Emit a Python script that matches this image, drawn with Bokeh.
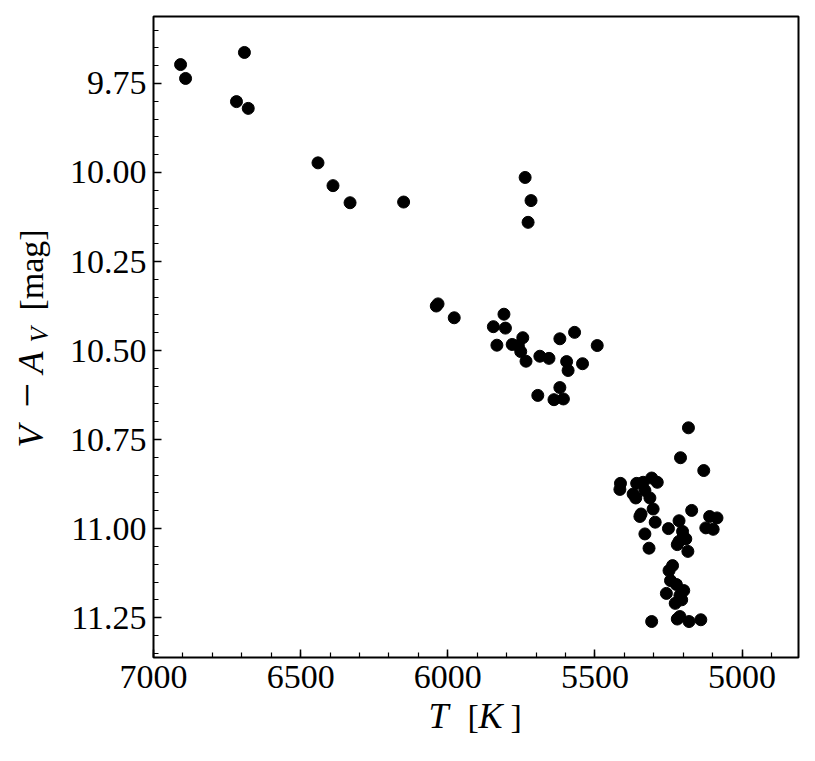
import math
from bokeh.plotting import figure
from bokeh.layouts import row, column
from bokeh.models import Range1d, FixedTicker, PrintfTickFormatter, Label, ColumnDataSource
from bokeh.embed import file_html
from bokeh.resources import INLINE

# --- data ---
temperature = [
    6908, 6891, 6691, 6718, 6678, 6441, 6390, 6332, 6150, 5737, 5717, 5727,
    6039, 6033, 5978, 5809, 5845, 5804, 5833, 5745, 5781, 5760, 5752, 5734,
    5687, 5656, 5619, 5569, 5492, 5596, 5591, 5542, 5619, 5694, 5639, 5607,
    5182, 5209, 5130, 5413, 5415, 5358, 5336, 5307, 5288, 5370, 5330, 5313,
    5361, 5302, 5343, 5347, 5295, 5330, 5316, 5250, 5214, 5171, 5110, 5085,
    5123, 5098, 5202, 5200, 5191, 5214, 5220, 5184, 5236, 5248, 5243, 5223,
    5198, 5257, 5211, 5227, 5205, 5307, 5220, 5211, 5180, 5140,
]
mag = [
    9.697, 9.736, 9.663, 9.801, 9.820, 9.973, 10.037, 10.085, 10.083, 10.014, 10.079, 10.140,
    10.375, 10.369, 10.408, 10.398, 10.433, 10.437, 10.485, 10.464, 10.483, 10.486, 10.503, 10.530,
    10.516, 10.522, 10.467, 10.449, 10.486, 10.531, 10.556, 10.537, 10.604, 10.626, 10.638, 10.636,
    10.717, 10.801, 10.837, 10.873, 10.890, 10.873, 10.870, 10.858, 10.870, 10.903, 10.893, 10.914,
    10.914, 10.945, 10.959, 10.966, 10.982, 11.015, 11.055, 11.000, 10.978, 10.949, 10.966, 10.970,
    10.998, 11.002, 11.008, 11.024, 11.029, 11.036, 11.045, 11.064, 11.104, 11.118, 11.146, 11.157,
    11.174, 11.182, 11.188, 11.210, 11.200, 11.261, 11.254, 11.247, 11.261, 11.256,
]
x_ticks = [7000, 6500, 6000, 5500, 5000]
x_minor = [4900 + 100 * i for i in range(22)]
y_ticks = [9.75, 10.00, 10.25, 10.50, 10.75, 11.00, 11.25]
y_minor = [round(9.60 + 0.05 * i, 2) for i in range(36)]

FONT = "Liberation Serif"
FS = 34
FS_IT = 36
SHIFT = 0.4          # observed baseline offset of Label text, in em

YLAB_W = 60          # visible width of the y-label strip
YLAB_EXTRA = 80      # strip extends under the main plot's left border
H = 16 + 641 + 96    # total height
XLAB_H = 60          # x-label strip overlaps the bottom of the main plot

p = figure(
    output_backend="svg", toolbar_location=None, title=None,
    frame_width=645, frame_height=641,
    min_border_left=93, min_border_top=16, min_border_right=9, min_border_bottom=96,
    x_range=Range1d(7000, 4808), y_range=Range1d(11.362, 9.562),
    background_fill_color="white", border_fill_color="white",
    border_fill_alpha=0,
)

src = ColumnDataSource(dict(t=temperature, v=mag))
p.scatter("t", "v", source=src, size=12, color="black", line_color="black")

p.xgrid.visible = False
p.ygrid.visible = False
p.outline_line_color = "black"
p.outline_line_width = 2
p.outline_line_alpha = 1

p.xaxis.ticker = FixedTicker(ticks=x_ticks, minor_ticks=x_minor)
p.yaxis.ticker = FixedTicker(ticks=y_ticks, minor_ticks=y_minor)
p.yaxis.formatter = PrintfTickFormatter(format="%.2f")

for ax in (p.xaxis[0], p.yaxis[0]):
    ax.axis_line_color = None
    ax.major_tick_in = 8
    ax.major_tick_out = 0
    ax.minor_tick_in = 5
    ax.minor_tick_out = 0
    ax.major_tick_line_color = "black"
    ax.minor_tick_line_color = "black"
    ax.major_tick_line_width = 1.5
    ax.minor_tick_line_width = 1.2
    ax.major_label_text_font = FONT
    ax.major_label_text_font_size = f"{FS}px"
    ax.major_label_text_color = "black"
p.xaxis.major_label_standoff = 8
p.yaxis.major_label_standoff = 7


def blank(w, h, left=0, right=0):
    f = figure(output_backend="svg", toolbar_location=None, title=None,
               frame_width=w, frame_height=h,
               min_border_left=left, min_border_right=right, min_border_top=0, min_border_bottom=0,
               x_axis_location=None, y_axis_location=None,
               x_range=Range1d(0, 1), y_range=Range1d(0, 1),
               background_fill_alpha=0, border_fill_alpha=0)
    f.xgrid.visible = False
    f.ygrid.visible = False
    f.outline_line_color = None
    return f


def lab(f, text, x, y, style="normal", size=FS, angle=0.0):
    f.add_layout(Label(x=x, y=y, x_units="screen", y_units="screen", text=text,
                       text_font=FONT, text_font_size=f"{size}px", text_font_style=style,
                       text_color="black", text_align="left", text_baseline="alphabetic",
                       angle=angle))


# y-axis label strip: V − A_V [mag]  (baseline at screen x = 45)
yl = blank(YLAB_W + YLAB_EXTRA, H)
yl.margin = (0, -YLAB_EXTRA, 0, 0)
A = math.pi / 2
def ylab(text, bottom, style="normal", size=FS, base_x=45):
    lab(yl, text, base_x - SHIFT * size, H - bottom, style, size, A)
ylab("V", 447, "italic", FS_IT)
ylab("\u2212", 407, size=44)
ylab("A", 373, "italic", FS_IT)
ylab("V", 342, "italic", 25, base_x=49)
ylab("[mag]", 310)

# x-axis label strip: T [K]  (baseline at screen y = 730)
xl = blank(645, XLAB_H, left=93, right=9)
xl.margin = (-XLAB_H, 0, 0, 0)
FL = YLAB_W + 93          # screen x of the frame's left edge
def xlab(text, left, style="normal", size=FS):
    lab(xl, text, left - FL, (H - 730) + SHIFT * size, style, size)
xlab("T", 428, "italic", FS_IT)
xlab("[", 467)
xlab("K", 478, "italic", FS_IT)
xlab("]", 510)

layout = row(yl, column(p, xl, spacing=0), spacing=0)

open("out.html", "w").write(file_html(layout, INLINE))
